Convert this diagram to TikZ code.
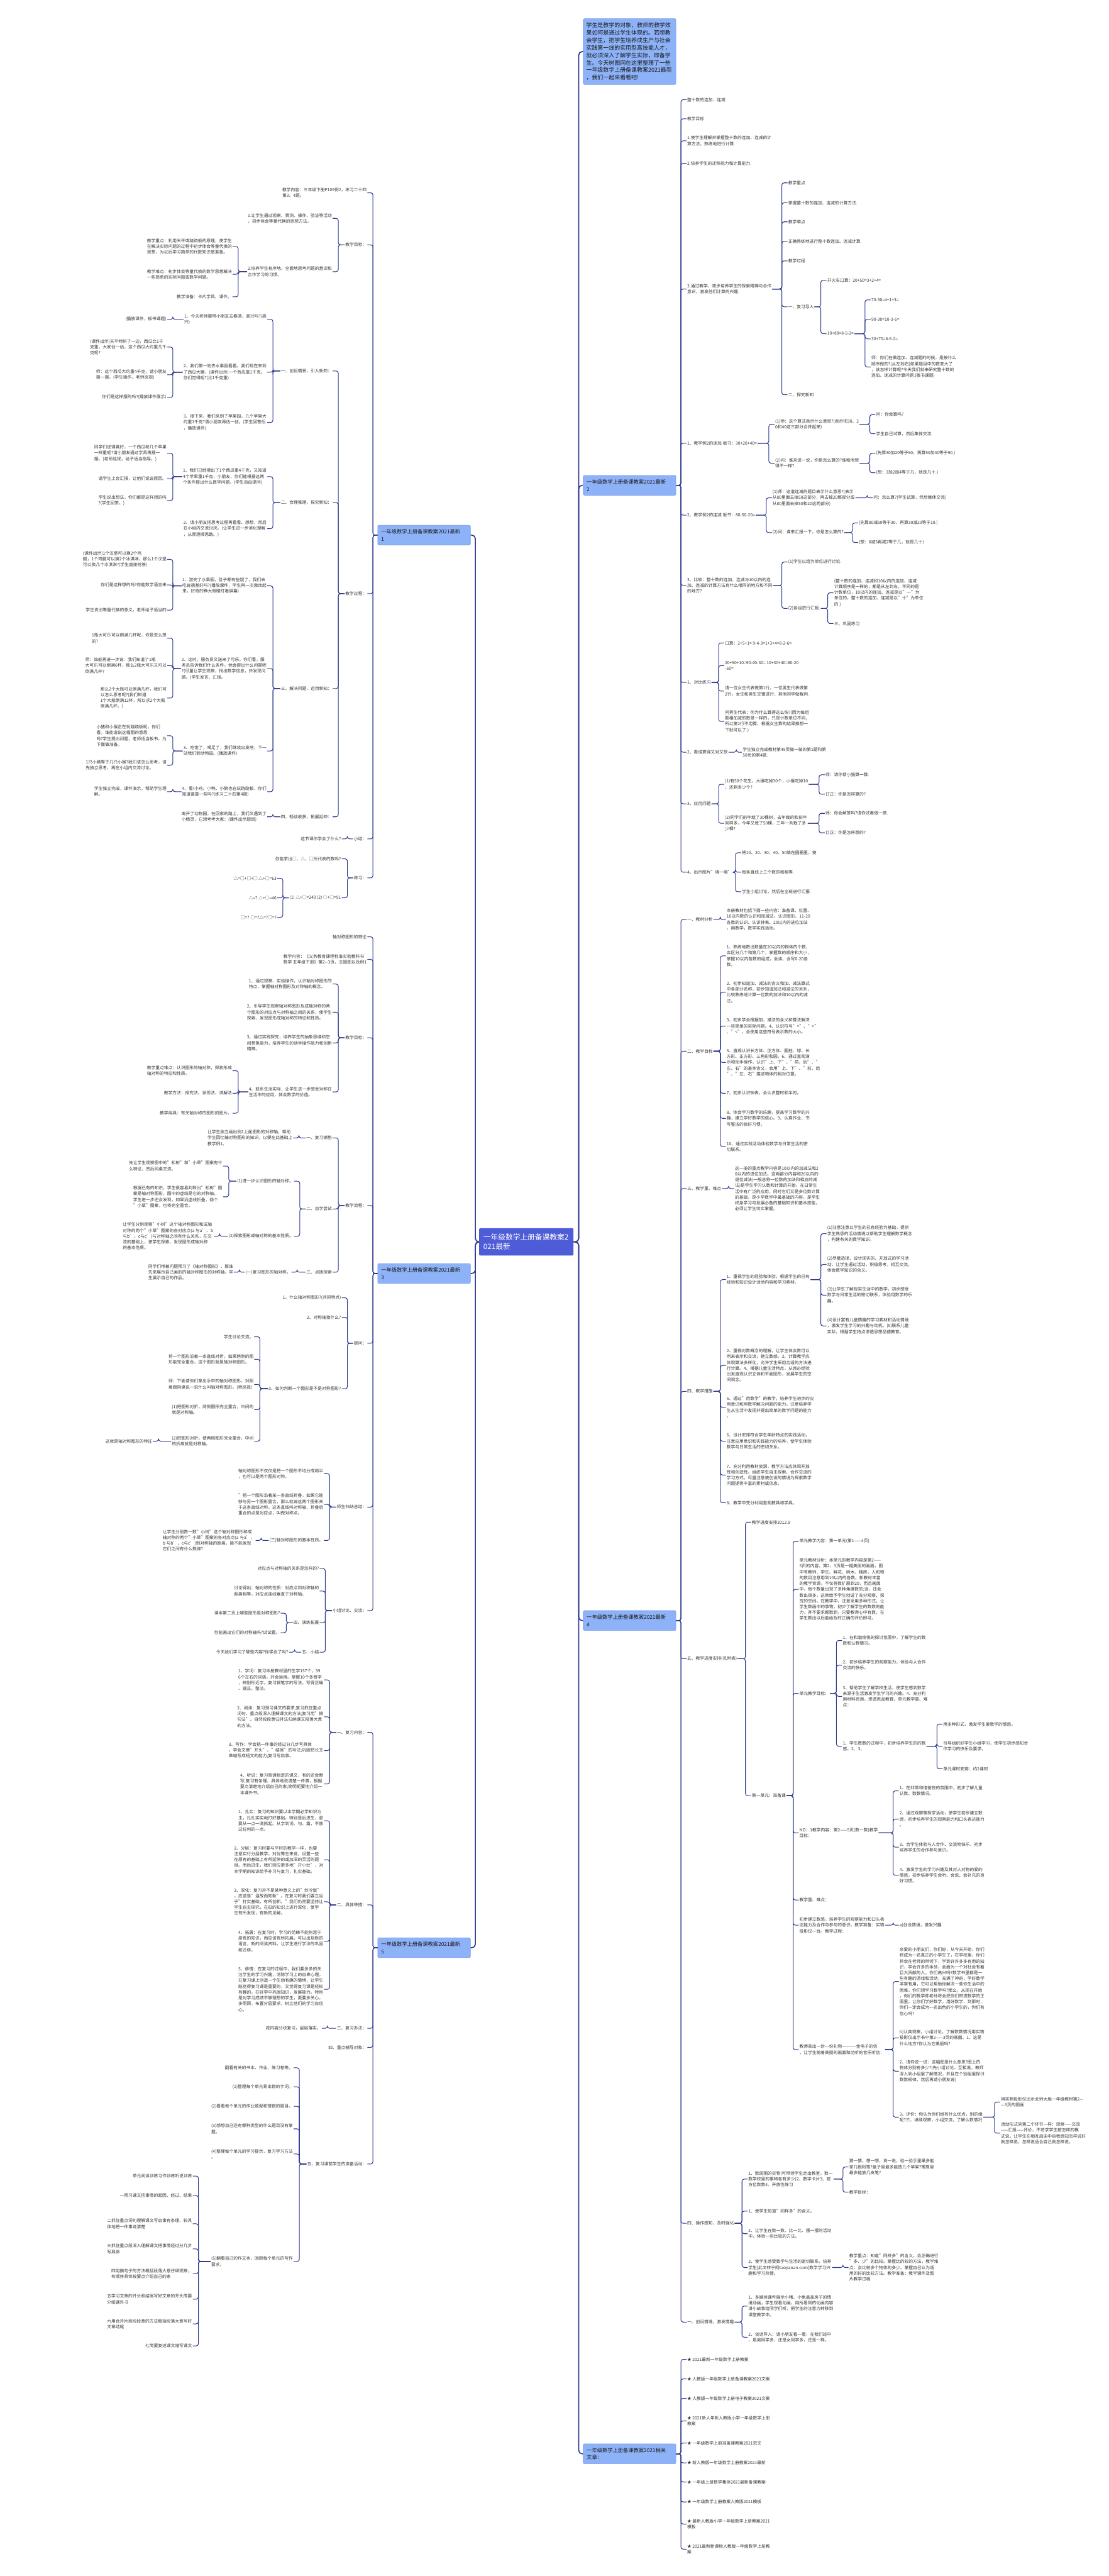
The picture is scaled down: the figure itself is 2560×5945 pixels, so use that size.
\documentclass[tikz,border=0pt]{standalone}
\usepackage{fontspec}
\setmainfont{Noto Sans CJK SC}
\usetikzlibrary{calc}
\definecolor{lc}{HTML}{2E3A8C}
\definecolor{tf}{HTML}{8DB2F8}
\definecolor{tb}{HTML}{7A9DEB}
\definecolor{rf}{HTML}{4F5CD8}
\definecolor{tx}{HTML}{333333}
\newcommand{\rnd}[4]{\node[leaf,anchor=west] (#1) at (#2,#3) {#4};}
\newcommand{\lnd}[4]{\node[leaf,anchor=east] (#1) at (#2,#3) {#4};}
\newcommand{\rcn}[2]{\draw[conn] (#1.east) -| ($(#2.west)+(-13,0)$) -- (#2.west);}
\newcommand{\lcn}[2]{\draw[conn] (#1.west) -| ($(#2.east)+(13,0)$) -- (#2.east);}
\begin{document}
\begin{tikzpicture}[x=1pt,y=-1pt,
 leaf/.style={font=\fontsize{9.8}{13.4}\selectfont, align=left, inner xsep=1.5, inner ysep=1, text=tx},
 title/.style={draw=tb, line width=0.8, fill=tf, rounded corners=3, font=\fontsize{12}{17}\selectfont, text=black!90, text width=198, align=left, minimum height=46, inner xsep=8, inner ysep=4},
 root/.style={fill=rf, rounded corners=3, font=\fontsize{17}{22}\selectfont, text=white, text width=198, align=left, minimum height=63, inner xsep=10, inner ysep=6},
 conn/.style={draw=lc, line width=1.5, rounded corners=5},
 mconn/.style={draw=lc, line width=2.4, rounded corners=8}]
\fill[white] (0,0) rectangle (2560,5945);
\useasboundingbox (0,0) rectangle (2560,5945);

% ---------- root and titles ----------
\node[root] (root) at (1215,2866) {一年级数学上册备课教案2\\021最新};
\node[title, minimum height=152, font=\fontsize{13}{17.2}\selectfont, text width=200, inner xsep=7] (intro) at (1453.5,119) {学生是教学的对象，教师的教学效\\果如何是通过学生体现的。若想教\\会学生，把学生培养成生产与社会\\实践第一线的实用型高技能人才，\\就必须深入了解学生实际，即备学\\生。今天树图网在这里整理了一些\\一年级数学上册备课教案2021最新\\，我们一起来看看吧!};
\node[title] (R2) at (1453.5,1120) {一年级数学上册备课教案2021最新\\2};
\node[title] (R4) at (1453.5,3740) {一年级数学上册备课教案2021最新\\4};
\node[title] (R6) at (1453.5,5663) {一年级数学上册备课教案2021相关\\文章：};
\node[title] (L1) at (979,1235) {一年级数学上册备课教案2021最新\\1};
\node[title] (L3) at (979,2939) {一年级数学上册备课教案2021最新\\3};
\node[title] (L5) at (979,4495) {一年级数学上册备课教案2021最新\\5};
\foreach \t in {intro,R2,R4,R6} {\draw[mconn] (root.east) -| ($(\t.west)+(-10,0)$) -- (\t.west);}
\foreach \t in {L1,L3,L5} {\draw[mconn] (root.west) -| ($(\t.east)+(11,0)$) -- (\t.east);}

% ---------- R2 ----------
\rnd{b1}{1585}{230}{整十数的连加、连减}
\rnd{b2}{1585}{274}{教学目标}
\rnd{b3}{1585}{325}{1.使学生理解并掌握整十数的连加、连减的计\\算方法，熟练地进行计算.}
\rnd{b4}{1585}{377}{2.培养学生的迁移能力和计算能力.}
\rnd{b5}{1585}{667}{3.通过教学，初步培养学生的探索精神与合作\\意识，激发他们计算的兴趣.}
\rnd{b6}{1585}{1023}{1、教学例2的连加.板书：30+20+40=}
\rnd{b7}{1585}{1189}{2、教学例2的连减.板书：80-50-20=}
\rnd{b8}{1585}{1351}{3、比较：整十数的连加、连减与10以内的连\\加、连减的计算方法有什么相同的地方和不同\\的地方?}
\rnd{b9}{1585}{1575}{1、对比练习}
\rnd{b10}{1585}{1736}{2、看谁算得又对又快}
\rnd{b11}{1585}{1855}{3、应用问题}
\rnd{b12}{1585}{2013}{4、出示图片"填一填"}
\foreach \i in {1,...,12} {\rcn{R2}{b\i}}

\rnd{c1}{1818}{422}{教学重点}
\rnd{c2}{1818}{468}{掌握整十数的连加、连减的计算方法.}
\rnd{c3}{1818}{512}{教学难点}
\rnd{c4}{1818}{557}{正确熟练地进行整十数连加、连减计算.}
\rnd{c5}{1818}{602}{教学过程}
\rnd{c6}{1818}{708}{一、复习导入}
\rnd{c7}{1818}{911}{二、探究新知}
\foreach \i in {1,...,7} {\rcn{b5}{c\i}}
\rnd{d1}{1908}{647}{开火车口算：20+50=3+2+4=}
\rnd{d2}{1908}{770}{10+80=8-5-2=}
\rcn{c6}{d1}\rcn{c6}{d2}
\rnd{e1}{2010}{692}{70-30=4+1+3=}
\rnd{e2}{2010}{737}{90-30=10-3-6=}
\rnd{e3}{2010}{782}{30+70=8-6-2=}
\rnd{e4}{2010}{847}{师：你们在做连加、连减题的时候，是按什么\\顺序做的?(从左到右)如果题目中的数变大了\\，该怎样计算呢?今天我们就来研究整十数的\\连加、连减的计算问题.(板书课题)}
\foreach \i in {1,...,4} {\rcn{d2}{e\i}}

\rnd{f1}{1788}{979}{(1)师：这个算式表示什么意思?(表示把30、2\\0和40这三部分合并起来)}
\rnd{f2}{1788}{1069}{(2)问：谁来说一说，你是怎么算的?谁和他想\\得不一样?}
\rcn{b6}{f1}\rcn{b6}{f2}
\rnd{g1}{2021}{957}{问：你会算吗?}
\rnd{g2}{2021}{1001}{学生自己试算，然后集体交流.}
\rnd{g3}{2021}{1046}{(先算30加20等于50，再算50加40等于90.)}
\rnd{g4}{2021}{1091}{(想：3加2加4等于几，就是几十.)}
\rcn{f1}{g1}\rcn{f1}{g2}\rcn{f2}{g3}\rcn{f2}{g4}

\rnd{h1}{1782}{1149}{(1)师：这道连减的题目表示什么意思?(表示\\从80里面去掉50这部分，再去掉20那部分或\\从80里面去掉50和20这两部分)}
\rnd{h2}{1782}{1229}{(2)问：谁来汇报一下，你是怎么算的?}
\rcn{b7}{h1}\rcn{b7}{h2}
\rnd{h3}{2015}{1149}{问：怎么算?(学生试算，然后集体交流)}
\rcn{h1}{h3}
\rnd{h4}{1981}{1207}{(先算80减50等于30，再算30减20等于10.)}
\rnd{h5}{1981}{1252}{(想：8减5再减2等于几，就是几十)}
\rcn{h2}{h4}\rcn{h2}{h5}

\rnd{i1}{1818}{1297}{(1)学生以组为单位进行讨论.}
\rnd{i2}{1818}{1404}{(2)各组进行汇报.}
\rcn{b8}{i1}\rcn{b8}{i2}
\rnd{i3}{1924}{1368}{(整十数的连加、连减和10以内的连加、连减\\计算顺序是一样的，都是从左到右，不同的是\\计数单位，10以内的连加、连减是以"一"为\\单位的，整十数的连加、连减是以"十"为单位\\的.)}
\rnd{i4}{1924}{1439}{三、巩固练习}
\rcn{i2}{i3}\rcn{i2}{i4}

\rnd{j1}{1672}{1484}{口算：2+5+1= 9-4-3=1+3+4=8-2-6=}
\rnd{j2}{1672}{1536}{20+50+10=90-40-30= 10+30+40=80-20\\-60=}
\rnd{j3}{1672}{1595}{请一位女生代表做第1行，一位男生代表做第\\2行，女生和男生交错进行，其他同学做裁判.}
\rnd{j4}{1672}{1665}{问男生代表：你为什么算得这么快?(因为每组\\题相加减的数是一样的，只是计数单位不同，\\所以第2行不用算，根据女生算的结果推想一\\下就可以了.)}
\foreach \i in {1,...,4} {\rcn{b9}{j\i}}
\rnd{j5}{1713}{1736}{学生独立完成教材第49页做一做的第1题和第\\50页的第4题.}
\rcn{b10}{j5}
\rnd{k1}{1672}{1810}{(1)有50个花生，大猴吃掉30个，小猴吃掉10\\，还剩多少个?}
\rnd{k2}{1672}{1900}{(2)同学们前年栽了30棵树，去年栽的和前年\\同样多，今年又栽了50棵，三年一共栽了多\\少棵?}
\rcn{b11}{k1}\rcn{b11}{k2}
\rnd{k3}{1904}{1788}{师：请你帮小猴算一算.}
\rnd{k4}{1904}{1833}{订正：你是怎样算的?}
\rnd{k5}{1904}{1877}{师：你会解答吗?请你试着做一做.}
\rnd{k6}{1904}{1922}{订正：你是怎样想的?}
\rcn{k1}{k3}\rcn{k1}{k4}\rcn{k2}{k5}\rcn{k2}{k6}
\rnd{m1}{1711}{1968}{把10、20、30、40、50填在圆圈里，使}
\rnd{m2}{1711}{2013}{每条直线上三个数的和相等.}
\rnd{m3}{1711}{2058}{学生小组讨论，然后在全班进行汇报.}
\rcn{b12}{m1}\rcn{b12}{m2}\rcn{b12}{m3}

% ---------- R4 ----------
\rnd{n1}{1585}{2122}{一、教材分析}
\rnd{n2}{1585}{2426}{二、教学目标}
\rnd{n3}{1585}{2743}{三、教学重、难点}
\rnd{n4}{1585}{3211}{四、教学措施}
\rnd{n5}{1585}{3828}{五、教学进度安排(见附表)}
\rnd{n6}{1585}{5131}{四、操作感知，及时强化}
\rnd{n7}{1585}{5359}{一、创设情境，激发情趣}
\foreach \i in {1,...,7} {\rcn{R4}{n\i}}
\rnd{o1}{1676}{2122}{本册教材包括下面一些内容：准备课、位置、\\10以内数的认识和加减法，认识图形、11-20\\各数的认识、认识钟表、20以内的进位加法\\，用数学，数学实践活动。}
\rcn{n1}{o1}
\rnd{o2}{1676}{2206}{1、熟练地数出数量在20以内的物体的个数，\\会区分几个和第几个，掌握数的顺序和大小，\\掌握10以内各数的组成，会读、会写0-20各\\数。}
\rnd{o3}{1676}{2290}{2、初步知道加、减法的含义和加、减法算式\\中各部分名称，初步知道加法和减法的关系，\\比较熟练地计算一位数的加法和10以内的减\\法。}
\rnd{o4}{1676}{2368}{3、初步学会根据加、减法的含义和算法解决\\一些简单的实际问题。4、认识符号"="、">"\\、"<"，会使用这些符号表示数的大小。}
\rnd{o5}{1676}{2452}{5、直观认识长方体、正方体、圆柱、球、长\\方形、正方形、三角形和圆。6、通过直观演\\示和动手操作，认识"上、下"、"前、后"、"\\左、右"的基本含义，会用"上、下"、"前、后\\"、"左、右"描述物体的相对位置。}
\rnd{o6}{1676}{2523}{7、初步认识钟表，会认识整时和半时。}
\rnd{o7}{1676}{2581}{8、体会学习数学的乐趣，提高学习数学的兴\\趣，建立学好数学的信心。9、认真作业、书\\写整洁的良好习惯。}
\rnd{o8}{1676}{2646}{10、通过实践活动体验数学与日常生活的密\\切联系。}
\foreach \i in {2,...,8} {\rcn{n2}{o\i}}
\rnd{o9}{1695}{2743}{这一册的重点教学内容是10以内的加减法和2\\0以内的进位加法。这两部分内容和20以内的\\退位减法(一般总称一位数的加法和相应的减\\法)是学生学习认数和计算的开始，在日常生\\活中有广泛的应用，同时它们又是多位数计算\\的基础，是小学数学中最基础的内容，是学生\\终身学习与发展必备的基础知识和基本技能，\\必须让学生切实掌握。}
\rcn{n3}{o9}
\rnd{p1}{1676}{2953}{1、重视学生的经验和体验，根据学生的已有\\经验和知识设计活动内容和学习素材。}
\rnd{p2}{1676}{3151}{2、重视对数概念的理解，让学生体会数可以\\用来表示和交流，建立数感。3、计算教学应\\体现算法多样化，允许学生采用合适的方法进\\行计算。4、根据儿童生活特点，从感必经验\\出发直观认识立体和平面图形，发展学生的空\\间观念。}
\rnd{p3}{1676}{3248}{5、通过"用数学"的教学，培养学生初步的应\\用意识和用数学解决问题的能力。注意培养学\\生从生活中发现并提出简单的数学问题的能力\\。}
\rnd{p4}{1676}{3326}{6、设计安排符合学生年龄特点的实践活动，\\注意应用意识和实践能力的培养，使学生体验\\数学与日常生活的密切关系。}
\rnd{p5}{1676}{3404}{7、充分利用教材资源，教学方法应体现开放\\性和创造性。组织学生自主探索、合作交流的\\学习方式。尽量注意使创设的情境为探索数学\\问题提供丰富的素材或信息。}
\rnd{p6}{1676}{3468}{8、教学中充分利用直观教具和学具。}
\foreach \i in {1,...,6} {\rcn{n4}{p\i}}
\rnd{p7}{1908}{2847}{(1)注意注意以学生的已有经验为基础，提供\\学生熟悉的活动情境以帮助学生理解数学概念\\，构建有关的数学知识。}
\rnd{p8}{1908}{2918}{(2)尽量选择、设计现实的、开放式的学习活\\动，让学生通过活动，积极思考，相互交流，\\体会数学知识的含义。}
\rnd{p9}{1908}{2989}{(3)让学生了解现实生活中的数学，初步感受\\数学与日常生活的密切联系，体验用数学的乐\\趣。}
\rnd{p10}{1908}{3060}{(4)设计富有儿童情趣的学习素材和活动情境\\，激发学生学习的兴趣与动机。(5)联系儿童\\实际，根据学生特点渗透思想品德教育。}
\foreach \i in {7,...,10} {\rcn{p1}{p\i}}

\rnd{q1}{1734}{3513}{教学进度安排2012.9}
\rnd{q2}{1734}{4144}{第一单元：准备课}
\rcn{n5}{q1}\rcn{n5}{q2}
\rnd{r1}{1844}{3557}{单元教学内容：第一单元(第1——4页)}
\rnd{r2}{1844}{3668}{单元教材分析：本单元的教学内容是第2——\\5页的内容，第2、3页是一幅美丽的画面，图\\中有教师、学生、鲜花、树木、楼房，人和物\\的数目注意用到10以内的各数。新教材丰富\\的教学资源，不仅将数扩展到20，而且画面\\中，每个数量出现了多种角度数的;适，还会\\数出很多，这就给予学生创设了充分观察、探\\究的空间。在教学中，注意采用多种形式，让\\学生数画中的事物，初步了解学生的数数的能\\力，并不要求都数到，只要教师心中有数，在\\学生数出以后能给及时正确的评价即可。}
\rnd{r3}{1844}{3908}{单元教学目标：}
\rnd{r4}{1844}{4230}{NO：1教学内容：第2——5页(数一数)教学\\目标：}
\rnd{r5}{1844}{4385}{教学重、难点：}
\rnd{r6}{1844}{4443}{初步建立数感，培养学生的观察能力和口头表\\达能力及合作与参与的意识。教学准备：实物\\投影仪一台。教学过程：}
\rnd{r7}{1844}{4730}{教师拿出一封一份礼物————金电子的信\\，让学生随着美丽的画面和动听的音乐听信：}
\foreach \i in {1,...,7} {\rcn{q2}{r\i}}
\rnd{s1}{1944}{3786}{1、在和谐愉悦的探讨氛围中，了解学生的数\\数和认数情况。}
\rnd{s2}{1944}{3843}{2、初步培养学生的观察能力，体验与人合作\\交流的快乐。}
\rnd{s3}{1944}{3915}{3、帮助学生了解学校生活，使学生感到数学\\来源于生活激发学生学习的兴趣。4、充分利\\用材料资源，渗透思品教育。单元教学重、难\\点：}
\rnd{s4}{1944}{4030}{1、学生数数的过程中，初步培养学生的的数\\感。2、3、}
\foreach \i in {1,...,4} {\rcn{r3}{s\i}}
\rnd{s5}{2176}{3979}{用多种形式，激发学生爱数学的情感。}
\rnd{s6}{2176}{4030}{引导组织好学生小组学习，使学生初步感知合\\作学习的快乐及要求。}
\rnd{s7}{2176}{4082}{单元课时安排：约2课时}
\rcn{s4}{s5}\rcn{s4}{s6}\rcn{s4}{s7}
\rnd{t1}{2075}{4133}{1、在非常和谐愉悦的氛围中，初步了解儿童\\认数、数数情况。}
\rnd{t2}{2075}{4198}{2、通过观察等探求活动，使学生初步建立数\\感，初步培养学生的观察能力和口头表达能力\\。}
\rnd{t3}{2075}{4263}{3、合学生体验与人合作、交流物快乐，初步\\培养学生的合作参与意识。}
\rnd{t4}{2075}{4328}{4、激发学生的学习兴趣及其对人对物的爱的\\情感，初步培养学生会听、会说、会补充的良\\好习惯。}
\foreach \i in {1,...,4} {\rcn{r4}{t\i}}
\rnd{t5}{2075}{4443}{a)创设情境，激发兴趣}
\rcn{r6}{t5}
\rnd{u1}{2075}{4573}{亲爱的小朋友们，你们好，从今天开始，你们\\将成为一名真正的小学生了，在学校里，你们\\将会在老师的带领下，学到许许多多有用的知\\识，学会许多的本领，会面为一个对社会有着\\巨大贡献的人，你们高兴吗?数学书里都是一\\些有趣的游戏和活动，充满了神奇，学好数学\\非常有用，它可以帮助你解决一些你生活中的\\困难，你们想学习数学吗?那么，从现在开始\\，你们的数学陈老师将会把你们带进数学的王\\国里，让你们学好数学，用好数学，到那时，\\你们一定会成为一名出色的小学生的，你们有\\信心吗?}
\rnd{u2}{2075}{4703}{b)认真观察，小组讨论，了解数数情况用实物\\投影仪出示书中第2——3页的画面。1、这是\\什么地方?你认为它美丽吗?}
\rnd{u3}{2075}{4780}{2、请你说一说：这幅图是什么意思?图上的\\物体分别有多少?(先小组讨论，互相说，教师\\深入到小组里了解情况，并且在个别组里探讨\\数数规律，然后再请小朋友说)}
\rnd{u4}{2075}{4886}{3、评价：你认为你们组有什么优点，别的组\\呢?三、继续观察，小组交流，了解认数情况}
\foreach \i in {1,...,4} {\rcn{r7}{u\i}}
\rnd{u5}{2309}{4851}{用实物投影仪出示北师大版一年级教材第2—\\—3页的图画}
\rnd{u6}{2309}{4923}{活动形式同第二个环节一样：观察——交流\\——汇报——评价，不苛求学生按怎样的模\\式说，让学生在相互启迪中自我感知怎样说好\\就怎样说，怎样说适合自己就怎样说。}
\rcn{u4}{u5}\rcn{u4}{u6}

\rnd{v1}{1726}{5029}{1、数周围的实物(可带领学生走出教室，数一\\数学校里的事物各有多少)2、数字卡片3、按\\方位数数4、开放性练习}
\rnd{v2}{1726}{5103}{1、使学生知道"同样多"的含义。}
\rnd{v3}{1726}{5155}{2、让学生在数一数、比一比、摆一摆的活动\\中，体验一些比较的方法。}
\rnd{v4}{1726}{5233}{3、使学生感受数学与生活的密切联系，培养\\学生[此文转于网taojiaoan.com]数学学习兴\\趣和学习热情。}
\foreach \i in {1,...,4} {\rcn{n6}{v\i}}
\rnd{v5}{1959}{5001}{猜一猜，想一想，说一说，验一验手里最多能\\拿几根粉笔?盘子里最多能放几个苹果?笔筒里\\最多能放几支笔?}
\rnd{v6}{1959}{5059}{教学目标：}
\rcn{v1}{v5}\rcn{v1}{v6}
\rnd{v7}{1959}{5233}{教学重点：知道"同样多"的含义。会正确进行\\"多、少"的比较。掌握比的较的方法，教学难\\点：会比较多个物体的多少。掌握自己认为适\\用的好的比较方法。教学准备：教学课件及图\\片教学过程}
\rcn{v4}{v7}
\rnd{w1}{1726}{5322}{1、多媒体课件展示小猪、小兔盖盖房子的情\\境动画，学生观看动画，用所看到的动画内容\\讲小故事给同学们听，把学生的注意力转移到\\课堂教学中。}
\rnd{w2}{1726}{5394}{2、谈话导入：请小朋友看一看，在我们班中\\，是男同学多，还是女同学多，还是一样。}
\rcn{n7}{w1}\rcn{n7}{w2}

% ---------- R6 ----------
\rnd{x1}{1585}{5445}{★ 2021最新一年级数学上册教案}
\rnd{x2}{1585}{5490}{★ 人教版一年级数学上册备课教案2021文案}
\rnd{x3}{1585}{5535}{★ 人教版一年级数学上册电子教案2021文案}
\rnd{x4}{1585}{5587}{★ 2021新人年新人教版小学一年级数学上册\\教案}
\rnd{x5}{1585}{5638}{★ 一年级数学上册准备课教案2021范文}
\rnd{x6}{1585}{5684}{★ 新人教版一年级数学上册教案2021最新}
\rnd{x7}{1585}{5728}{★ 一年级上册数学集体2021最新备课教案}
\rnd{x8}{1585}{5774}{★ 一年级数学上册教案人教版2021模板}
\rnd{x9}{1585}{5825}{★ 最新人教版小学一年级数学上册教案2021\\模板}
\rnd{x10}{1585}{5883}{★ 2021最新新课标人教版一年级数学上册教\\案}
\foreach \i in {1,...,10} {\rcn{R6}{x\i}}

% ---------- L1 ----------
\lnd{A1}{848}{445}{教学内容：三年级下册P109例2，练习二十四\\第3、4题。}
\lnd{A2}{848}{565}{教学目标：}
\lnd{A3}{848}{1370}{教学过程：}
\lnd{A4}{848}{1936}{小结：}
\lnd{A5}{848}{2026}{练习：}
\foreach \i in {1,...,5} {\lcn{L1}{A\i}}
\lnd{A6}{768}{504}{1.让学生通过观察、猜测、操作、验证等活动\\，初步体会等量代换的思想方法。}
\lnd{A7}{768}{627}{2.培养学生有序地、全面地思考问题的意识和\\合作学习的习惯。}
\lcn{A2}{A6}\lcn{A2}{A7}
\lnd{A8}{537}{569}{教学重点：利用天平或跷跷板的原理，使学生\\在解决实际问题的过程中初步体会等量代换的\\思想，为以后学习简单的代数知识做准备。}
\lnd{A9}{537}{633}{教学难点：初步体会等量代换的数学思想解决\\一些简单的实际问题或数学问题。}
\lnd{A10}{537}{685}{教学准备：卡片学具、课件。}
\lcn{A7}{A8}\lcn{A7}{A9}\lcn{A7}{A10}
\lnd{B1}{768}{856}{一、创设情景，引入新知：}
\lnd{B2}{768}{1160}{二、合理推理，探究新知：}
\lnd{B3}{768}{1589}{三、解决问题，运用新知：}
\lnd{B4}{768}{1885}{四、畅谈收获，拓展延伸：}
\foreach \i in {1,...,4} {\lcn{A3}{B\i}}
\lnd{C1}{617}{737}{1、今天老师要带小朋友去春游，高兴吗?(高\\兴)}
\lnd{C2}{617}{859}{2、我们第一站去水果园看看。我们现在来到\\了西瓜大棚，(课件出示)一个西瓜重1千克，\\你们觉得呢?(比1千克重)}
\lnd{C3}{617}{975}{3、接下来，我们来到了苹果园，几个苹果大\\约重1千克?请小朋友再估一估。(学生回答后\\，播放课件)}
\lcn{B1}{C1}\lcn{B1}{C2}\lcn{B1}{C3}
\lnd{C4}{386}{737}{(播放课件，板书课题)}
\lcn{C1}{C4}
\lnd{C5}{386}{801}{(课件出示)天平倾斜了一边，西瓜比1千\\克重，大家估一估，这个西瓜大约重几千\\克呢?}
\lnd{C6}{386}{865}{师：这个西瓜大约重4千克，请小朋友\\摆一摆。(学生操作，老师巡视)}
\lnd{C7}{386}{917}{你们是这样摆的吗?(播放课件展示)}
\lcn{C2}{C5}\lcn{C2}{C6}\lcn{C2}{C7}
\lnd{C8}{617}{1100}{1、我们已经摆出了1个西瓜重4千克，又知道\\4个苹果重1千克，小朋友，你们能根据这两\\个条件提出什么数学问题。(学生自由提问)}
\lnd{C9}{617}{1220}{2、请小朋友把思考过程再看看、想想，然后\\在小组内交流讨厌。(让学生进一步消化理解\\，从而理顺思路。)}
\lcn{B2}{C8}\lcn{B2}{C9}
\lnd{C10}{386}{1046}{同学们说得真好，一个西瓜和几个苹果\\一样重呢?请小朋友通过学具再摆一\\摆。(老师巡视，给予适当指导。)}
\lnd{C11}{386}{1105}{请学生上台汇报，让他们说说原因。}
\lnd{C12}{386}{1155}{学生说出想法，你们都是这样想的吗\\?(学生回答。)}
\lcn{C8}{C10}\lcn{C8}{C11}\lcn{C8}{C12}
\lnd{D1}{617}{1352}{1、游完了水果园，肚子都有些饿了，我们去\\吃肯德基好吗?(播放课件，学生再一次激动起\\来，好奇的睁大眼睛盯着屏幕)}
\lnd{D2}{617}{1543}{2、这时，服务员又送来了可乐。你们看，服\\务员告诉我们什么条件，他会提出什么问题呢\\?(尽量让学生观察，找出数学信息，并发现问\\题。)学生发言、汇报。}
\lnd{D3}{617}{1733}{3、吃饱了，喝足了，我们继续出发吧，下一\\站我们到动物园。(播放课件)}
\lnd{D4}{617}{1827}{4、看!小鸡、小鸭、小鹅也在玩跷跷板，你们\\知道谁重一些吗?(练习二十四第4题)}
\foreach \i in {1,...,4} {\lcn{B3}{D\i}}
\lnd{D5}{386}{1291}{(课件出示)1个汉堡可以换2个鸡\\腿，1个鸡腿可以换2个冰淇淋，那么1个汉堡\\可以换几个冰淇淋?(学生直接抢答)}
\lnd{D6}{386}{1350}{你们是这样想的吗?你能数学语言来}
\lnd{D7}{386}{1408}{学生说出等量代换的意义，老师给予适当的}
\lcn{D1}{D5}\lcn{D1}{D6}\lcn{D1}{D7}
\lnd{D8}{386}{1473}{1瓶大可乐可以倒满几杯呢，你是怎么想\\的?}
\lnd{D9}{386}{1536}{师：谁能再进一步说：我们知道了1瓶\\大可乐可以倒满6杯，那么2瓶大可乐又可以\\倒满几杯?}
\lnd{D10}{386}{1611}{那么2个大瓶可以倒满几杯，我们可\\以怎么思考呢?(我们知道\\1个大瓶倒满12杯，所以求2个大瓶\\倒满几杯。)}
\lcn{D2}{D8}\lcn{D2}{D9}\lcn{D2}{D10}
\lnd{D11}{386}{1698}{小猪和小猴正在玩跷跷板呢，你们\\看，谁能说说这幅图的意思\\吗?学生提出问题，老师适当板书，为\\下面做准备。}
\lnd{D12}{386}{1766}{1只小猪等于几只小猴?我们该怎么思考，请\\先独立思考，再在小组内交流讨论。}
\lcn{D3}{D11}\lcn{D3}{D12}
\lnd{D13}{386}{1827}{学生独立完成，课件演示，帮助学生理\\解。}
\lcn{D4}{D13}
\lnd{D14}{617}{1885}{离开了动物园，在回家的路上，我们又遇到了\\小精灵，它想考考大家：(课件出示题目)}
\lcn{B4}{D14}
\lnd{D15}{789}{1936}{这节课你学会了什么?}
\lcn{A4}{D15}
\lnd{D16}{789}{1982}{你能求出○、△、□所代表的数吗?}
\lnd{D17}{789}{2072}{(1) △+□=240 (2) ○+□=91}
\lcn{A5}{D16}\lcn{A5}{D17}
\lnd{D18}{640}{2027}{△=□+□+□ △+□=63}
\lnd{D19}{640}{2072}{△=? △+○=46}
\lnd{D20}{640}{2117}{□=? ○=?△=?□=?}
\lcn{D17}{D18}\lcn{D17}{D19}\lcn{D17}{D20}

% ---------- L3 ----------
\lnd{E1}{848}{2162}{轴对称图形的特征}
\lnd{E2}{848}{2214}{教学内容：《义务教育课程标准实验教科书\\数学 五年级下册》第2-{}-3页，主题图以及例1}
\lnd{E3}{848}{2395}{教学目标：}
\lnd{E4}{848}{2782}{教学流程：}
\lnd{E5}{848}{3100}{提问：}
\lnd{E6}{848}{3478}{师生归纳总结：}
\lnd{E7}{848}{3717}{小组讨论、交流：}
\foreach \i in {1,...,7} {\lcn{L3}{E\i}}
\lnd{F1}{768}{2271}{1、通过观察、实验操作，认识轴对称图形的\\特点，掌握轴对称图形及对称轴的概念。}
\lnd{F2}{768}{2336}{2、引导学生观察轴对称图形及成轴对称的两\\个图形的对应点与对称轴之间的关系，使学生\\探索、发现图形成轴对称的特征和性质。}
\lnd{F3}{768}{2407}{3、通过实践探究，培养学生的抽象思维和空\\间想象能力，培养学生的动手操作能力和创新\\精神。}
\lnd{F4}{768}{2520}{4、联系生活实际，让学生进一步感受对称在\\生活中的应用，体会数学的价值。}
\foreach \i in {1,...,4} {\lcn{E3}{F\i}}
\lnd{F5}{537}{2471}{教学重点难点：认识图形的轴对称，探索形成\\轴对称的特征和性质。}
\lnd{F6}{537}{2523}{教学方法：探究法、发现法、讲解法}
\lnd{F7}{537}{2569}{教学用具：有关轴对称的图形的图片。}
\lcn{F4}{F5}\lcn{F4}{F6}\lcn{F4}{F7}
\lnd{G1}{768}{2626}{一、复习铺垫}
\lnd{G2}{768}{2790}{二、自学尝试}
\lnd{G3}{768}{2936}{三、点拨探索}
\lcn{E4}{G1}\lcn{E4}{G2}\lcn{E4}{G3}
\lnd{G4}{677}{2626}{让学生独立画出例1上面图形的对称轴，帮助\\学生回忆轴对称图形的知识，以便在此基础上\\教学例1。}
\lcn{G1}{G4}
\lnd{G5}{679}{2726}{(1)进一步认识图形的轴对称。}
\lnd{G6}{679}{2853}{(2)探索图形成轴对称的基本性质。}
\lcn{G2}{G5}\lcn{G2}{G6}
\lnd{G7}{515}{2691}{先让学生观察图中的"松树"和"小草"图案有什\\么特征，然后同桌交流。}
\lnd{G8}{515}{2762}{根据已有的知识，学生很容易判断出"松树"图\\案是轴对称图形，图中的虚线是它的对称轴，\\学生进一步还会发现，如果沿虚线折叠，两个\\"小草"图案，也将完全重合。}
\lcn{G5}{G7}\lcn{G5}{G8}
\lnd{G9}{494}{2853}{让学生分别观察"小树"这个轴对称图形和成轴\\对称的两个"小草"图案的各对应点(a 与a'、b\\与b'、c与c')与对称轴之间有什么关系，在交\\流的基础上，使学生探索、发现图形成轴对称\\的基本性质。}
\lcn{G6}{G9}
\lnd{G10}{673}{2936}{(一)复习图形的轴对称。}
\lcn{G3}{G10}
\lnd{G11}{540}{2936}{同学们带着问题预习了《轴对称图形》，那谁\\先来展示自己画的的轴对称图形的对称轴。学\\生展示自己的作品。}
\lcn{G10}{G11}
\lnd{H1}{789}{2995}{1、什么轴对称图形?(共同特点)}
\lnd{H2}{789}{3040}{2、对称轴指什么?}
\lnd{H3}{789}{3205}{3、如何判断一个图形是不是对称图形?}
\lcn{E5}{H1}\lcn{E5}{H2}\lcn{E5}{H3}
\lnd{H4}{587}{3085}{学生讨论交流。}
\lnd{H5}{587}{3137}{将一个图形沿着一条直线对折，如果两侧的图\\形能完全重合，这个图形就是轴对称图形。}
\lnd{H6}{587}{3195}{师：下面请你们拿出手中的轴对称图形，对照\\着跟同桌说一说什么叫轴对称图形。(师巡视)}
\lnd{H7}{587}{3253}{(1)把图形对折，两侧图形完全重合，中间的\\就是对称轴。}
\lnd{H8}{587}{3326}{(2)把图形对折，使两侧图形完全重合，中间\\的折痕就是对称轴。}
\foreach \i in {4,...,8} {\lcn{H3}{H\i}}
\lnd{H9}{353}{3326}{这就是轴对称图形的特征}
\lcn{H8}{H9}
\lnd{I1}{748}{3401}{轴对称图形不仅仅是把一个图形平均分成两半\\，也可以是两个图形对称。}
\lnd{I2}{748}{3472}{"把一个图形沿着某一条直线折叠，如果它能\\够与另一个图形重合，那么就说这两个图形关\\于这条直线对称，这条直线叫对称轴，折叠后\\重合的点是对应点，叫做对称点。}
\lnd{I3}{748}{3555}{(三)轴对称图形的基本性质。}
\lcn{E6}{I1}\lcn{E6}{I2}\lcn{E6}{I3}
\lnd{I4}{590}{3555}{让学生分别数一数"小树"这个轴对称图形和成\\轴对称的两个"小草"图案的各对应点(a 与a'、\\b 与b'、c与c')到对称轴的距离，能不能发现\\它们之间有什么规律?}
\lcn{I3}{I4}
\lnd{J1}{738}{3620}{对应点与对称轴的关系是怎样的?}
\lnd{J2}{738}{3672}{讨论得出：轴对称的性质：对应点到对称轴的\\距离相等，对应点连线垂直于对称轴。}
\lnd{J3}{738}{3745}{四、演练拓展}
\lnd{J4}{738}{3813}{五、小结}
\foreach \i in {1,...,4} {\lcn{E7}{J\i}}
\lnd{J5}{648}{3723}{课本第二页上哪些图形是对称图形?}
\lnd{J6}{648}{3768}{你能画出它们的对称轴吗?试试看。}
\lcn{J3}{J5}\lcn{J3}{J6}
\lnd{J7}{667}{3813}{今天我们学习了哪些内容?你学会了吗?}
\lcn{J4}{J7}

% ---------- L5 ----------
\lnd{K1}{848}{3998}{一、复习内容：}
\lnd{K2}{848}{4396}{二、具体举措：}
\lnd{K3}{848}{4681}{三、复习办法：}
\lnd{K4}{848}{4725}{四、重点辅导对象：}
\lnd{K5}{848}{4994}{五、复习课前学生的准备活动：}
\foreach \i in {1,...,5} {\lcn{L5}{K\i}}
\lnd{M1}{748}{3877}{1、字词：复习本册教材里的生字157个，39\\6个左右的词语，并会运用。掌握10个多音字\\，辨别形近字。复习钢笔字的写法，写得正确\\、端正、整洁。}
\lnd{M2}{748}{3962}{2、阅读：复习预习课文的要求;复习抓住重点\\词句、重点段深入理解课文的方法;复习用"摘\\句法"、自然段段意归并法归纳课文段落大意\\的方法。}
\lnd{M3}{748}{4040}{3、写作：学会把一件事的经过分几步写具体\\，学会文章"开头"、"结尾"的写法;巩固把长文\\章缩写成短文的能力;复习写启事。}
\lnd{M4}{748}{4117}{4、听说：复习背诵指定的课文，有的还会默\\写;复习有条理、具体地说清楚一件事，根据\\要点清楚地介绍自己的家;简明扼要地介绍一\\本课外书。}
\foreach \i in {1,...,4} {\lcn{K1}{M\i}}
\lnd{M5}{748}{4202}{1、扎实：复习的知识要以本学期必学知识为\\主，扎扎实实地打好基础。特别是后进生，更\\要从一点一滴抓起。从字到词、句、篇，不放\\过任何的一点。}
\lnd{M6}{748}{4292}{2、分层：复习时要与平时的教学一样，也要\\注意实行分层教学。对优等生来说，设置一些\\在原有的基础上有所延伸的或加深的灵活的题\\目。而后进生，我们则应更多地"开小灶"，对\\本学期的知识给予补习与复习，扎实基础。}
\lnd{M7}{748}{4389}{3、深化：复习并不是某种意义上的"炒冷饭"\\，应该是"温故而知新"。在复习时我们要立足\\于"打实基础，有所创新。"我们仍然要坚持让\\学生自主探究，在旧的知识上进行深化，使学\\生有所发现，有新的见解。}
\lnd{M8}{748}{4480}{4、拓展：在复习时，学习的范畴不能拘泥于\\原有的知识，而应该有所拓展。可以出现新的\\语言，新的阅读资料，让学生进行学法的巩固\\和迁移。}
\lnd{M9}{748}{4591}{5、移情：在复习的过程中，我们要多多的关\\注学生的学习兴趣，消除学习上的自卑心理。\\在复习课上创造一个生动有趣的情境，让学生\\既觉得复习课是重要的，又觉得复习课是轻松\\有趣的，在好学中巩固知识，发展能力。特别\\是对学习成绩不够理想的学生，更要多关心，\\多照顾，布置分层要求，树立他们的学习自信\\心。}
\foreach \i in {5,...,9} {\lcn{K2}{M\i}}
\lnd{M10}{743}{4681}{按内容分块复习，层层落实。}
\lcn{K3}{M10}
\lnd{N1}{678}{4772}{翻看有关的书本、作业、练习卷等。}
\lnd{N2}{678}{4816}{(1)整理每个单元易出错的字词。}
\lnd{N3}{678}{4861}{(2)看看每个单元的作业题型和错错的题目。}
\lnd{N4}{678}{4913}{(3)想想自己还有哪种类型的什么题目没有掌\\握。}
\lnd{N5}{678}{4971}{(4)整理每个单元的学习提示，复习学习方法\\。}
\lnd{N6}{678}{5219}{(5)翻看自己的作文本，回顾每个单元的写作\\要求。}
\foreach \i in {1,...,6} {\lcn{K5}{N\i}}
\lnd{N7}{445}{5022}{单元阅读训练习作训练听说训练}
\lnd{N8}{445}{5067}{一预习课文把事情的起因、经过、结果}
\lnd{N9}{445}{5132}{二抓住重点词句理解课文写启事有条理、较具\\体地把一件事说清楚}
\lnd{N10}{445}{5190}{三抓住重点段深入理解课文把事情经过分几步\\写具体}
\lnd{N11}{445}{5247}{四用摘句子的方法概括段落大意仔细观察，\\有顺序具体按要点介绍自己的家}
\lnd{N12}{445}{5306}{五学习文章的开头和结尾写好文章的开头简要\\介绍课外书}
\lnd{N13}{445}{5363}{六用合并片段段段意的方法概括段落大意写好\\文章结尾}
\lnd{N14}{445}{5414}{七简要复述课文缩写课文}
\foreach \i in {7,...,14} {\lcn{N6}{N\i}}
\end{tikzpicture}
\end{document}
